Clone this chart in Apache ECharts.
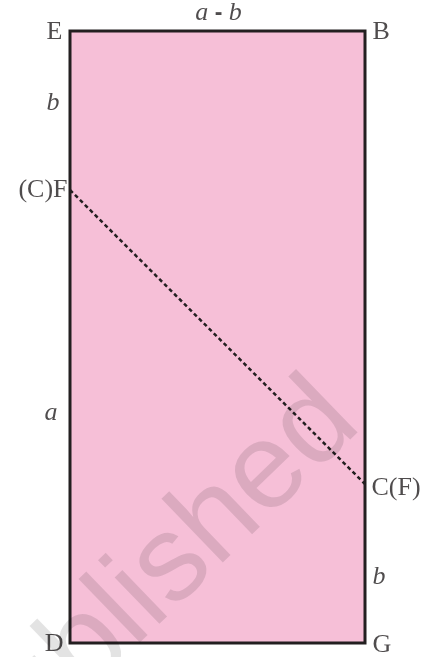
<!DOCTYPE html>
<html lang="en">

<head>
  <meta charset="UTF-8">
  <title>Rectangle EBGD</title>
  <style>
    html,
    body {
      margin: 0;
      height: 100%;
      width: 100%;
      background: #fff;
    }
  </style>
</head>

<body>
  <div id="chart" style="width:432px;height:657px"></div>
  <script src="https://cdn.jsdelivr.net/npm/echarts@6/dist/echarts.min.js"></script>
  <script>
    // side lengths of the figure
    const a = 5.7
    const b = 2
    const rectW = a - b
    const rectH = a + b

    // corners D, G, B, E
    const cornerNames = ['D', 'G', 'B', 'E']
    const corners = [[0, 0], [rectW, 0], [rectW, rectH], [0, rectH]]

    // fold line from F (left side) to C (right side)
    const foldLine = [[0, a], [rectW, b]]

    // edge / point labels and the point each one belongs to
    const sideNames = ['a - b', 'b', '(C)F', 'a', 'C(F)', 'b ']
    const sideAnchors = [[rectW / 2, rectH], [0, a + b / 2], [0, a], [0, a / 2], [rectW, b], [rectW, b / 2]]

    // placement of each label (kept apart from the data)
    const place = {
      'D': { position: 'left', distance: 6, offset: [0, 1] },
      'G': { position: 'right', distance: 7, offset: [0, 2] },
      'B': { position: 'right', distance: 7, offset: [0, 1] },
      'E': { position: 'left', distance: 7, offset: [0, 1] },
      'a - b': { position: 'top', distance: 4, offset: [1, 0] },
      'b': { position: 'left', distance: 10, offset: [0, -7], italic: true },
      '(C)F': { position: 'left', distance: 2, offset: [0, 0] },
      'a': { position: 'left', distance: 12, offset: [0, -3], italic: true },
      'C(F)': { position: 'right', distance: 6, offset: [0, 4] },
      'b ': { position: 'right', distance: 7, offset: [0, 14], italic: true }
    }

    const ink = '#231f20'

    const labelData = cornerNames.map((n, i) => ({ name: n, value: corners[i] }))
      .concat(sideNames.map((n, i) => ({ name: n, value: sideAnchors[i] })))
      .map(d => {
        const p = place[d.name]
        const lab = {
          show: true,
          position: p.position,
          distance: p.distance,
          offset: p.offset,
          color: ink,
          fontFamily: 'Liberation Serif',
          fontSize: 26,
          fontStyle: p.italic ? 'italic' : 'normal',
          formatter: d.name.trim()
        }
        if (d.name === 'a - b') {
          lab.formatter = '{i|a} {d|-} {i|b}'
          lab.rich = {
            i: { fontFamily: 'Liberation Serif', fontStyle: 'italic', fontSize: 26, color: ink },
            d: { fontFamily: 'Liberation Sans', fontWeight: 'bold', fontSize: 23, color: ink }
          }
        }
        return { name: d.name, value: d.value, label: lab }
      })

    const option = {
      animation: false,
      grid: { left: 70, right: 67, top: 31, bottom: 14 },
      xAxis: { type: 'value', min: 0, max: rectW, show: false },
      yAxis: { type: 'value', min: 0, max: rectH, show: false },
      graphic: [{
        type: 'text',
        x: 152,
        y: 584,
        rotation: 44 * Math.PI / 180,
        z: 10,
        silent: true,
        style: {
          text: 'published',
          fontFamily: 'Liberation Sans',
          fontSize: 122,
          fill: 'rgba(0,0,0,0.11)',
          textAlign: 'center',
          textVerticalAlign: 'middle'
        }
      }],
      series: [{
        type: 'custom',
        z: 1,
        data: [0],
        renderItem: function (params, api) {
          return {
            type: 'polygon',
            shape: { points: corners.map(p => api.coord(p)) },
            style: { fill: '#f6bfd7', stroke: ink, lineWidth: 3 }
          }
        }
      }, {
        type: 'line',
        z: 3,
        data: foldLine,
        symbol: 'none',
        lineStyle: { color: ink, width: 2.5, type: [4, 3] }
      }, {
        type: 'scatter',
        z: 4,
        symbolSize: 1,
        itemStyle: { color: 'rgba(0,0,0,0)' },
        data: labelData
      }]
    }

    const myChart = echarts.init(document.getElementById('chart'))
    myChart.setOption(option)
  </script>
</body>

</html>
